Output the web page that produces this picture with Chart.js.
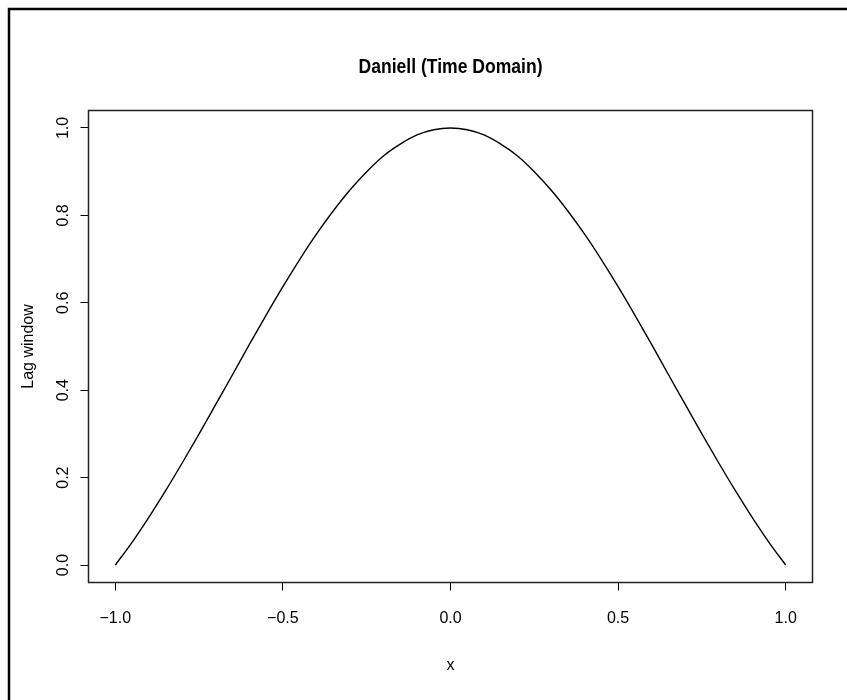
<!DOCTYPE html>
<html>
<head>
<meta charset="utf-8">
<title>Daniell (Time Domain)</title>
<script src="https://cdn.jsdelivr.net/npm/chart.js@4/dist/chart.umd.min.js"></script>
<style>
  html, body { margin: 0; padding: 0; background: #ffffff; }
  canvas { display: block; }
</style>
</head>
<body>
<canvas id="chart" width="847" height="700"></canvas>
<script>
// Lag positions and the Daniell lag window values
const lags = [
  -1.00, -0.95, -0.90, -0.85, -0.80, -0.75, -0.70, -0.65, -0.60, -0.55,
  -0.50, -0.45, -0.40, -0.35, -0.30, -0.25, -0.20, -0.15, -0.10, -0.05,
   0.00,
   0.05,  0.10,  0.15,  0.20,  0.25,  0.30,  0.35,  0.40,  0.45,  0.50,
   0.55,  0.60,  0.65,  0.70,  0.75,  0.80,  0.85,  0.90,  0.95,  1.00
];
const lagWindow = [
  0.000, 0.052, 0.109, 0.170, 0.234, 0.300, 0.368, 0.436, 0.505, 0.572,
  0.637, 0.699, 0.757, 0.810, 0.858, 0.900, 0.936, 0.963, 0.984, 0.996,
  1.000,
  0.996, 0.984, 0.963, 0.936, 0.900, 0.858, 0.810, 0.757, 0.699, 0.637,
  0.572, 0.505, 0.436, 0.368, 0.300, 0.234, 0.170, 0.109, 0.052, 0.000
];

// Axis ticks
const xTicks = [-1.0, -0.5, 0.0, 0.5, 1.0];
const xTickLabels = ["\u22121.0", "\u22120.5", "0.0", "0.5", "1.0"];
const yTicks = [0.0, 0.2, 0.4, 0.6, 0.8, 1.0];
const yTickLabels = ["0.0", "0.2", "0.4", "0.6", "0.8", "1.0"];

const titleText = "Daniell (Time Domain)";
const xTitle = "x";
const yTitle = "Lag window";

const FONT = "'Liberation Sans', Arial, Helvetica, sans-serif";

const points = lags.map((x, i) => ({ x: x, y: lagWindow[i] }));

// White page, main title centred over the plot, plot box and outer frame
const framePlugin = {
  id: 'frame',
  beforeDraw(chart) {
    const ctx = chart.ctx;
    ctx.save();
    ctx.fillStyle = '#ffffff';
    ctx.fillRect(0, 0, chart.width, chart.height);
    ctx.restore();
  },
  afterDraw(chart) {
    const ctx = chart.ctx;
    const a = chart.chartArea;

    // main title, slightly condensed bold face
    ctx.save();
    ctx.font = "bold 21px " + FONT;
    ctx.fillStyle = '#000000';
    ctx.textAlign = 'center';
    ctx.textBaseline = 'middle';
    const cx = (a.left + a.right) / 2;
    const w = ctx.measureText(titleText).width;
    const sx = Math.min(1, 184 / w);
    ctx.translate(cx, 67);
    ctx.scale(sx, 1);
    ctx.fillText(titleText, 0, 0);
    ctx.restore();

    ctx.save();
    ctx.strokeStyle = '#222222';
    ctx.lineWidth = 1.5;
    ctx.strokeRect(a.left, a.top, a.right - a.left, a.bottom - a.top);
    ctx.strokeStyle = '#000000';
    ctx.lineWidth = 2.5;
    ctx.beginPath();
    ctx.moveTo(9, chart.height);
    ctx.lineTo(9, 9);
    ctx.lineTo(chart.width, 9);
    ctx.stroke();
    ctx.restore();
  }
};

new Chart(document.getElementById('chart'), {
  type: 'line',
  data: {
    datasets: [{
      data: points,
      borderColor: '#000000',
      borderWidth: 1.4,
      pointRadius: 0,
      fill: false,
      cubicInterpolationMode: 'monotone'
    }]
  },
  options: {
    responsive: false,
    animation: false,
    events: [],
    layout: { padding: { left: 0, right: 34.5, top: 110.5, bottom: 0 } },
    plugins: {
      legend: { display: false },
      tooltip: { enabled: false },
      title: { display: false }
    },
    scales: {
      x: {
        type: 'linear',
        min: -1.08,
        max: 1.08,
        afterBuildTicks(scale) { scale.ticks = xTicks.map(v => ({ value: v })); },
        afterFit(scale) { scale.height = 117.5; },
        ticks: {
          color: '#000000',
          font: { family: FONT, size: 16 },
          padding: 18,
          maxRotation: 0,
          autoSkip: false,
          callback(value) {
            const i = xTicks.indexOf(value);
            return i >= 0 ? xTickLabels[i] : '';
          }
        },
        grid: {
          drawOnChartArea: false,
          drawTicks: true,
          tickLength: 8,
          color: '#000000',
          lineWidth: 1
        },
        border: { display: false },
        title: {
          display: true,
          text: xTitle,
          color: '#000000',
          font: { family: FONT, size: 16, lineHeight: 1.2 },
          padding: { top: 0, bottom: 25 }
        }
      },
      y: {
        type: 'linear',
        min: -0.04,
        max: 1.04,
        afterBuildTicks(scale) { scale.ticks = yTicks.map(v => ({ value: v })); },
        afterFit(scale) { scale.width = 88.5; },
        ticks: {
          color: '#000000',
          font: { family: FONT, size: 16 },
          padding: 6,
          minRotation: 90,
          maxRotation: 90,
          crossAlign: 'center',
          autoSkip: false,
          callback(value) {
            const i = yTicks.indexOf(value);
            return i >= 0 ? yTickLabels[i] : '';
          }
        },
        grid: {
          drawOnChartArea: false,
          drawTicks: true,
          tickLength: 8,
          color: '#000000',
          lineWidth: 1
        },
        border: { display: false },
        title: {
          display: true,
          text: yTitle,
          color: '#000000',
          font: { family: FONT, size: 16, lineHeight: 1.2 },
          padding: { top: 18.5, bottom: 0 }
        }
      }
    }
  },
  plugins: [framePlugin]
});
</script>
</body>
</html>
